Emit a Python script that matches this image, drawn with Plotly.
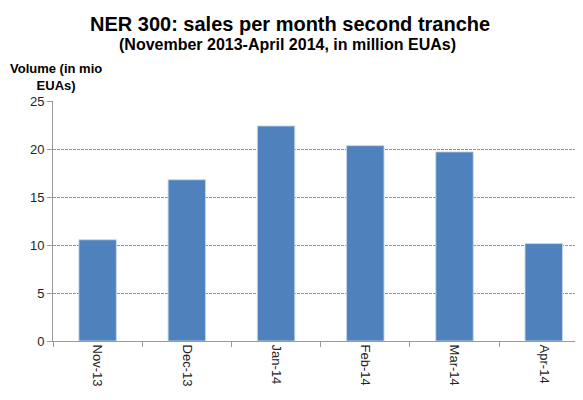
import plotly.graph_objects as go

months = ["Nov-13", "Dec-13", "Jan-14", "Feb-14", "Mar-14", "Apr-14"]
volumes = [10.55, 16.8, 22.4, 20.35, 19.7, 10.15]
y_ticks = [0, 5, 10, 15, 20, 25]

# page body has an 8px default margin, so the figure is laid out 8px smaller
OFF = 8
W, H = 583 - OFF, 400 - OFF
L, R, T, B = 53 - OFF, 0, 101 - OFF, 59
plot_h = H - T - B
plot_w = W - L - R

def px_to_paper_y(py):
    return (H - B - (py - OFF)) / plot_h

def px_to_paper_x(px):
    return ((px - OFF) - L) / plot_w

fig = go.Figure(go.Bar(
    x=months, y=volumes,
    marker=dict(color="#4F81BD", line=dict(color="rgba(200,215,235,0.9)", width=1)),
))

fig.update_layout(
    width=W, height=H,
    margin=dict(l=L, r=R, t=T, b=B, autoexpand=False),
    paper_bgcolor="white", plot_bgcolor="white",
    bargap=0.58,
    showlegend=False,
    font=dict(family="Liberation Sans, Arial, sans-serif", color="#222"),
    annotations=[
        dict(text="<b>NER 300: sales per month second tranche</b>",
             x=px_to_paper_x(290), y=px_to_paper_y(24),
             xref="paper", yref="paper", xanchor="center", yanchor="middle",
             font=dict(size=20, color="black"), showarrow=False),
        dict(text="<b>(November 2013-April 2014, in million EUAs)</b>",
             x=px_to_paper_x(287), y=px_to_paper_y(45),
             xref="paper", yref="paper", xanchor="center", yanchor="middle",
             font=dict(size=16, color="black"), showarrow=False),
        dict(text="<b>Volume (in mio<br>EUAs)</b>",
             x=px_to_paper_x(56), y=px_to_paper_y(77),
             xref="paper", yref="paper", xanchor="center", yanchor="middle",
             align="center", font=dict(size=13, color="black"), showarrow=False),
    ],
)

fig.update_xaxes(
    automargin=False,
    range=[-0.5, 5.44],
    tickangle=90,
    tickson="boundaries",
    ticks="outside", ticklen=5, tickcolor="#999",
    showline=True, linecolor="#999", linewidth=1,
    tickfont=dict(size=13, color="#222"),
    showgrid=False,
)
fig.update_yaxes(
    automargin=False,
    range=[0, 25], tickvals=y_ticks,
    ticks="outside", ticklen=5, tickcolor="#999",
    showline=True, linecolor="#999", linewidth=1,
    tickfont=dict(size=13, color="#222"),
    showgrid=True, gridcolor="#6A9AE0", griddash="3px,1px", gridwidth=1,
    zeroline=False,
)

fig.write_html("out.html")
